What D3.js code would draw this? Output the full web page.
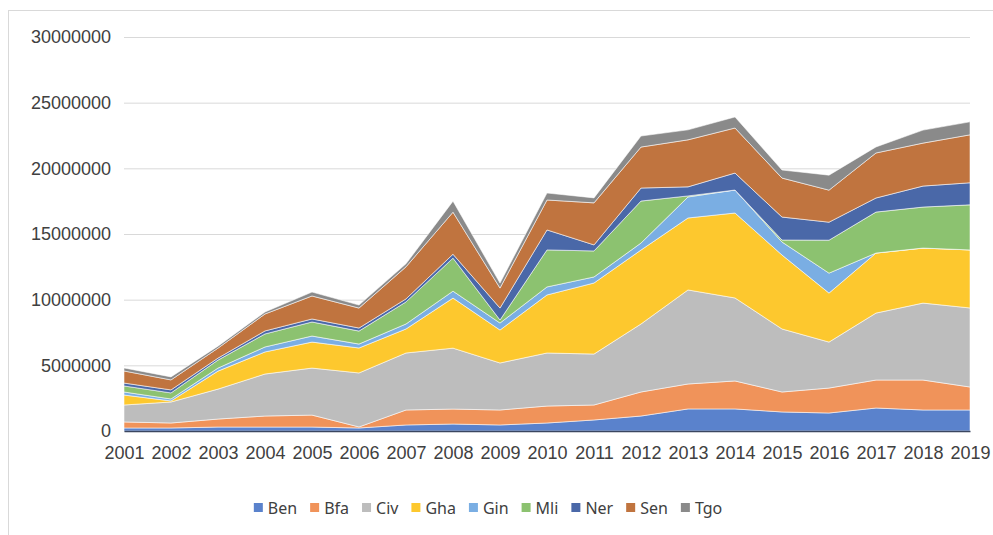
<!DOCTYPE html>
<html>
<head>
<meta charset="utf-8">
<script src="https://cdn.jsdelivr.net/npm/d3@7"></script>
<style>
    body { margin: 0; background: #fff; }
    svg { display: block; font-family: "Noto Sans", "Open Sans", sans-serif; }
    .grid line { stroke: #d9d9d9; stroke-width: 1; }
    .axis text { fill: #404040; font-size: 18px; }
    .legend text { fill: #404040; font-size: 16px; }
</style>
</head>
<body>
<svg id="chart"></svg>
<script>
const years = ['2001', '2002', '2003', '2004', '2005', '2006', '2007', '2008', '2009', '2010',
    '2011', '2012', '2013', '2014', '2015', '2016', '2017', '2018', '2019']
const countries = ['Ben', 'Bfa', 'Civ', 'Gha', 'Gin', 'Mli', 'Ner', 'Sen', 'Tgo']
const colors = ['#5a82cc', '#f0935a', '#bdbdbd', '#fdc82e', '#7aaee3', '#8cc270', '#4a68a8', '#c0743f', '#8a8a8a']
const yTicks = [0, 5000000, 10000000, 15000000, 20000000, 25000000, 30000000]

const ben = [230000, 230000, 300000, 300000, 300000, 230000, 460000, 530000, 460000, 610000,
    840000, 1140000, 1680000, 1680000, 1450000, 1370000, 1750000, 1600000, 1600000]
const bfa = [460000, 380000, 610000, 840000, 910000, 80000, 1140000, 1140000, 1140000, 1290000,
    1140000, 1830000, 1900000, 2130000, 1520000, 1900000, 2130000, 2280000, 1750000]
const civ = [1290000, 1600000, 2280000, 3200000, 3580000, 4110000, 4340000, 4640000, 3580000, 4040000,
    3880000, 5180000, 7160000, 6320000, 4800000, 3500000, 5100000, 5860000, 6020000]
const gha = [760000, 80000, 1370000, 1680000, 1980000, 1900000, 1830000, 3810000, 2510000, 4420000,
    5410000, 5630000, 5480000, 6470000, 5630000, 3730000, 4570000, 4190000, 4420000]
const gin = [230000, 150000, 230000, 380000, 460000, 300000, 380000, 530000, 530000, 610000,
    460000, 530000, 1600000, 1750000, 990000, 1520000, 0, 0, 0]
const mli = [460000, 460000, 610000, 990000, 1070000, 990000, 1680000, 2510000, 230000, 2820000,
    1980000, 3200000, 80000, 0, 150000, 2510000, 3120000, 3120000, 3430000]
const ner = [220000, 230000, 150000, 230000, 230000, 230000, 230000, 300000, 910000, 1520000,
    460000, 990000, 690000, 1290000, 1750000, 1370000, 1070000, 1600000, 1680000]
const sen = [920000, 760000, 760000, 1290000, 1750000, 1520000, 2440000, 3200000, 1520000, 2280000,
    3200000, 3120000, 3580000, 3430000, 2970000, 2440000, 3430000, 3270000, 3650000]
const tgo = [230000, 230000, 150000, 150000, 300000, 230000, 230000, 840000, 380000, 530000,
    380000, 840000, 760000, 840000, 610000, 1140000, 460000, 990000, 990000]

const series = [ben, bfa, civ, gha, gin, mli, ner, sen, tgo]

const width = 993
const height = 535
const plotLeft = 124
const plotRight = 970
const plotTop = 37
const plotBottom = 431

const table = years.map((year, i) => {
    const row = { year }
    countries.forEach((c, j) => { row[c] = series[j][i] })
    return row
})

const chart = d3.select('#chart')
    .attr('width', width)
    .attr('height', height)

// outer frame of the chart
chart.append('rect')
    .attr('x', 8.5).attr('y', 10.5)
    .attr('width', width + 10).attr('height', height + 10)
    .attr('fill', 'none')
    .attr('stroke', '#d9d9d9')

const xScale = d3.scalePoint().domain(years).range([plotLeft, plotRight])
const yScale = d3.scaleLinear().domain([0, 30000000]).range([plotBottom, plotTop])

// y axis with grid lines
chart.append('g')
    .attr('class', 'axis grid')
    .attr('transform', `translate(${plotLeft}, 0)`)
    .call(d3.axisLeft(yScale).tickValues(yTicks).tickSize(-(plotRight - plotLeft)).tickPadding(13).tickFormat(d3.format('d')))
    .call(g => g.select('.domain').remove())

const stack = d3.stack().keys(countries)
const area = d3.area()
    .x(d => xScale(d.data.year))
    .y0(d => yScale(d[0]))
    .y1(d => yScale(d[1]))

chart.append('g')
    .selectAll('path')
    .data(stack(table))
    .join('path')
    .attr('fill', (d, i) => colors[i])
    .attr('stroke', '#fff')
    .attr('stroke-opacity', 0.55)
    .attr('stroke-width', 1)
    .attr('d', area)

// x axis
chart.append('g')
    .attr('class', 'axis')
    .attr('transform', `translate(0, ${plotBottom})`)
    .call(d3.axisBottom(xScale).tickSize(0).tickPadding(15))
    .call(g => g.select('.domain').attr('stroke', '#3b4660').attr('stroke-width', 1.5))

// legend
const legend = chart.append('g').attr('class', 'legend')
let lx = 0
countries.forEach((c, i) => {
    const item = legend.append('g').attr('transform', `translate(${lx}, 0)`)
    item.append('rect')
        .attr('x', 0).attr('y', -5)
        .attr('width', 9).attr('height', 9)
        .attr('fill', colors[i])
    const t = item.append('text')
        .attr('x', 14).attr('y', 0)
        .attr('dy', '0.35em')
        .text(c)
    lx += 14 + t.node().getComputedTextLength() + 13
})
const legendWidth = lx - 13
legend.attr('transform', `translate(${488 - legendWidth / 2}, 508)`)
</script>
</body>
</html>
